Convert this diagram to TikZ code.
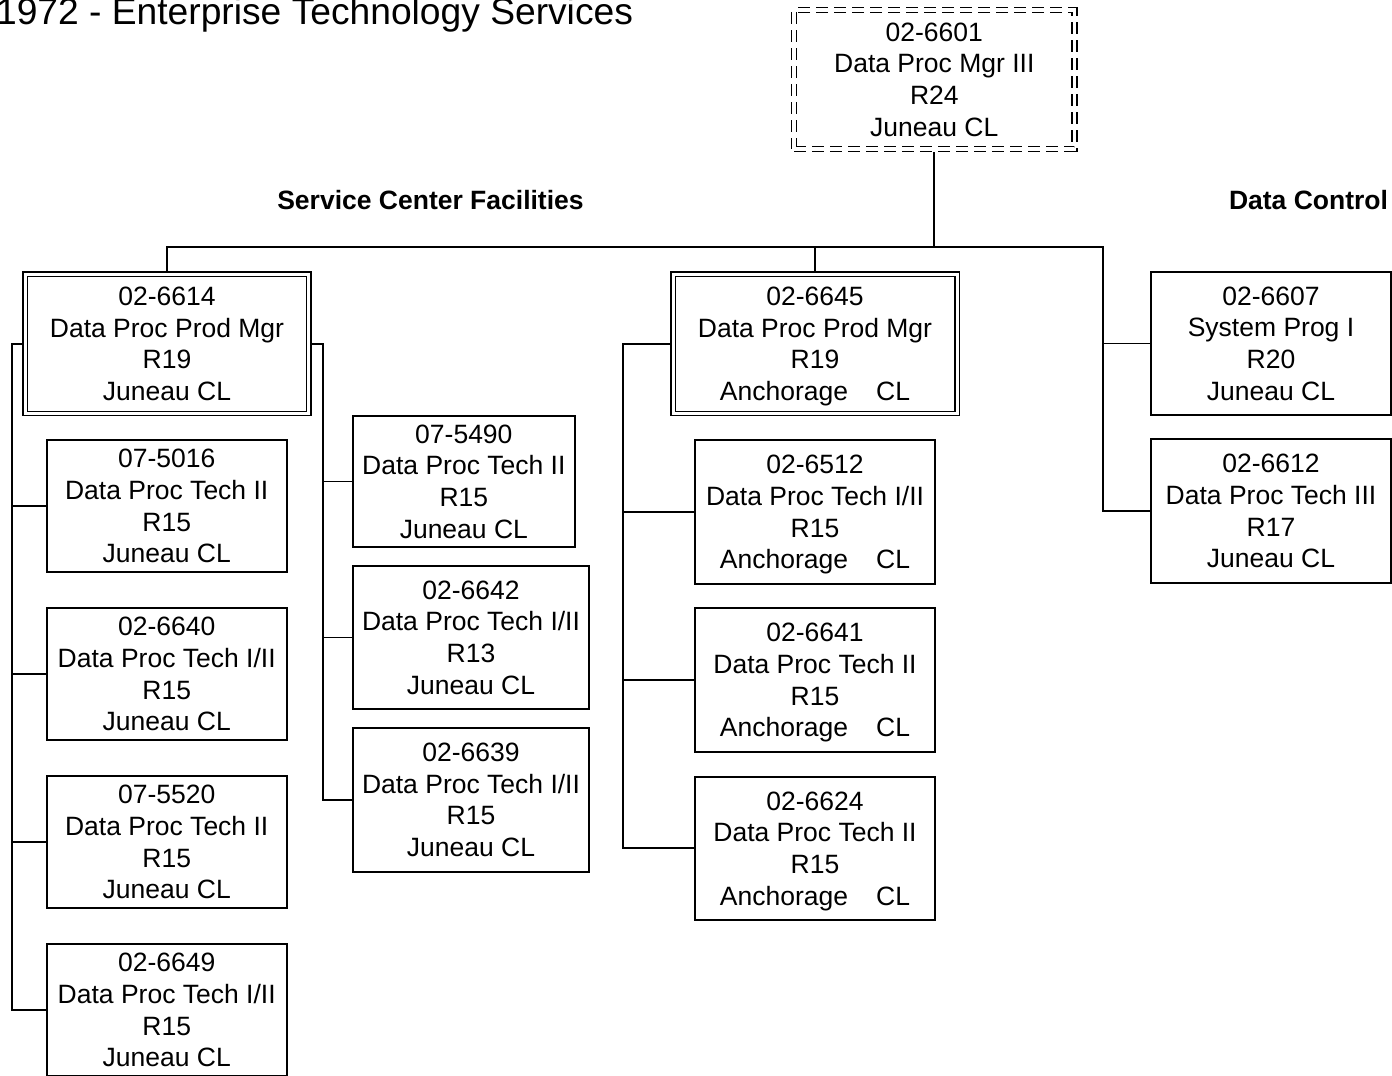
\documentclass[tikz,border=0pt]{standalone}
\usepackage{fontspec}
\setmainfont{Liberation Sans}
\newcommand{\anch}{Anchorage\hspace{28bp}CL}
\begin{document}
\begin{tikzpicture}[x=1bp,y=-1bp,
  every node/.style={inner sep=0pt, outer sep=0pt, align=center,
    font=\fontsize{26.5bp}{31.7bp}\selectfont},
  pbox/.style={draw, line width=1.8bp, rectangle, text depth=0pt},
  dbox/.style={draw, line width=1.4bp, double, double distance=3bp, outer sep=2.9bp, text depth=0pt},
  topbox/.style={draw, line width=1.6bp, double, double distance=3.4bp,
    dash pattern=on 12bp off 6bp, outer sep=3.3bp, text depth=0pt},
  conn/.style={line width=1.8bp},
  head/.style={font=\fontsize{26.5bp}{32bp}\selectfont\bfseries}]

\useasboundingbox (0,0) rectangle (1392,1075);

% title and headings
\node[font=\fontsize{37.2bp}{40bp}\selectfont, anchor=base east] (title) at (633,24.5) {1972 - Enterprise Technology Services};
\node[head, anchor=base] (hsc) at (430.5,209.5) {Service Center Facilities};
\node[head, anchor=base east] (hdc) at (1388,209.5) {Data Control};

% boxes
\node[topbox, minimum width=280.5bp, minimum height=139bp] (top) at (934.3,79.5) {02-6601\\Data Proc Mgr III\\R24\\Juneau CL};

\node[dbox, minimum width=283.5bp, minimum height=139.5bp] (n6614) at (167,343.75) {02-6614\\Data Proc Prod Mgr\\R19\\Juneau CL};
\node[dbox, minimum width=284bp, minimum height=139.5bp] (n6645) at (815,343.75) {02-6645\\Data Proc Prod Mgr\\R19\\\anch};

\node[pbox, minimum width=240bp, minimum height=143.3bp] (n6607) at (1271,343.4) {02-6607\\System Prog I\\R20\\Juneau CL};
\node[pbox, minimum width=240bp, minimum height=143.4bp] (n6612) at (1271,511) {02-6612\\Data Proc Tech III\\R17\\Juneau CL};

\node[pbox, minimum width=240bp, minimum height=131.7bp] (n5016) at (166.7,505.9) {07-5016\\Data Proc Tech II\\R15\\Juneau CL};
\node[pbox, minimum width=240bp, minimum height=132.3bp] (n6640) at (166.7,673.9) {02-6640\\Data Proc Tech I/II\\R15\\Juneau CL};
\node[pbox, minimum width=240bp, minimum height=132.3bp] (n5520) at (166.7,842.1) {07-5520\\Data Proc Tech II\\R15\\Juneau CL};
\node[pbox, minimum width=240bp, minimum height=132.3bp] (n6649) at (166.7,1010.1) {02-6649\\Data Proc Tech I/II\\R15\\Juneau CL};

\node[pbox, minimum width=222.3bp, minimum height=131.6bp] (n5490) at (463.85,481.5) {07-5490\\Data Proc Tech II\\R15\\Juneau CL};
\node[pbox, minimum width=236.6bp, minimum height=143.6bp] (n6642) at (471,637.5) {02-6642\\Data Proc Tech I/II\\R13\\Juneau CL};
\node[pbox, minimum width=236.6bp, minimum height=144bp] (n6639) at (471,799.7) {02-6639\\Data Proc Tech I/II\\R15\\Juneau CL};

\node[pbox, minimum width=240bp, minimum height=144bp] (n6512) at (815,512) {02-6512\\Data Proc Tech I/II\\R15\\\anch};
\node[pbox, minimum width=240bp, minimum height=143.4bp] (n6641) at (815,680) {02-6641\\Data Proc Tech II\\R15\\\anch};
\node[pbox, minimum width=240bp, minimum height=143.3bp] (n6624) at (815,848.3) {02-6624\\Data Proc Tech II\\R15\\\anch};

% spine coordinates
\coordinate (bus) at (0,247.3);
\coordinate (lx) at (11.7,0);
\coordinate (mx) at (322.7,0);
\coordinate (ax) at (623.3,0);
\coordinate (dx) at (1102.7,0);

% connectors
\draw[conn] (top.south) -- (top.south |- bus);
\draw[conn] (n6614.north) -- (n6614.north |- bus) -- (dx |- bus) -- (dx |- n6612.west) -- (n6612.west);
\draw[conn] (n6645.north) -- (n6645.north |- bus);
\draw[conn] (dx |- n6607.west) -- (n6607.west);

\draw[conn] (n6614.west) -| (lx |- n6649.west) -- (n6649.west);
\foreach \n in {n5016,n6640,n5520} \draw[conn] (lx |- \n.west) -- (\n.west);

\draw[conn] (n6614.east) -| (mx |- n6639.west) -- (n6639.west);
\foreach \n in {n5490,n6642} \draw[conn] (mx |- \n.west) -- (\n.west);

\draw[conn] (n6645.west) -| (ax |- n6624.west) -- (n6624.west);
\foreach \n in {n6512,n6641} \draw[conn] (ax |- \n.west) -- (\n.west);
\end{tikzpicture}
\end{document}
